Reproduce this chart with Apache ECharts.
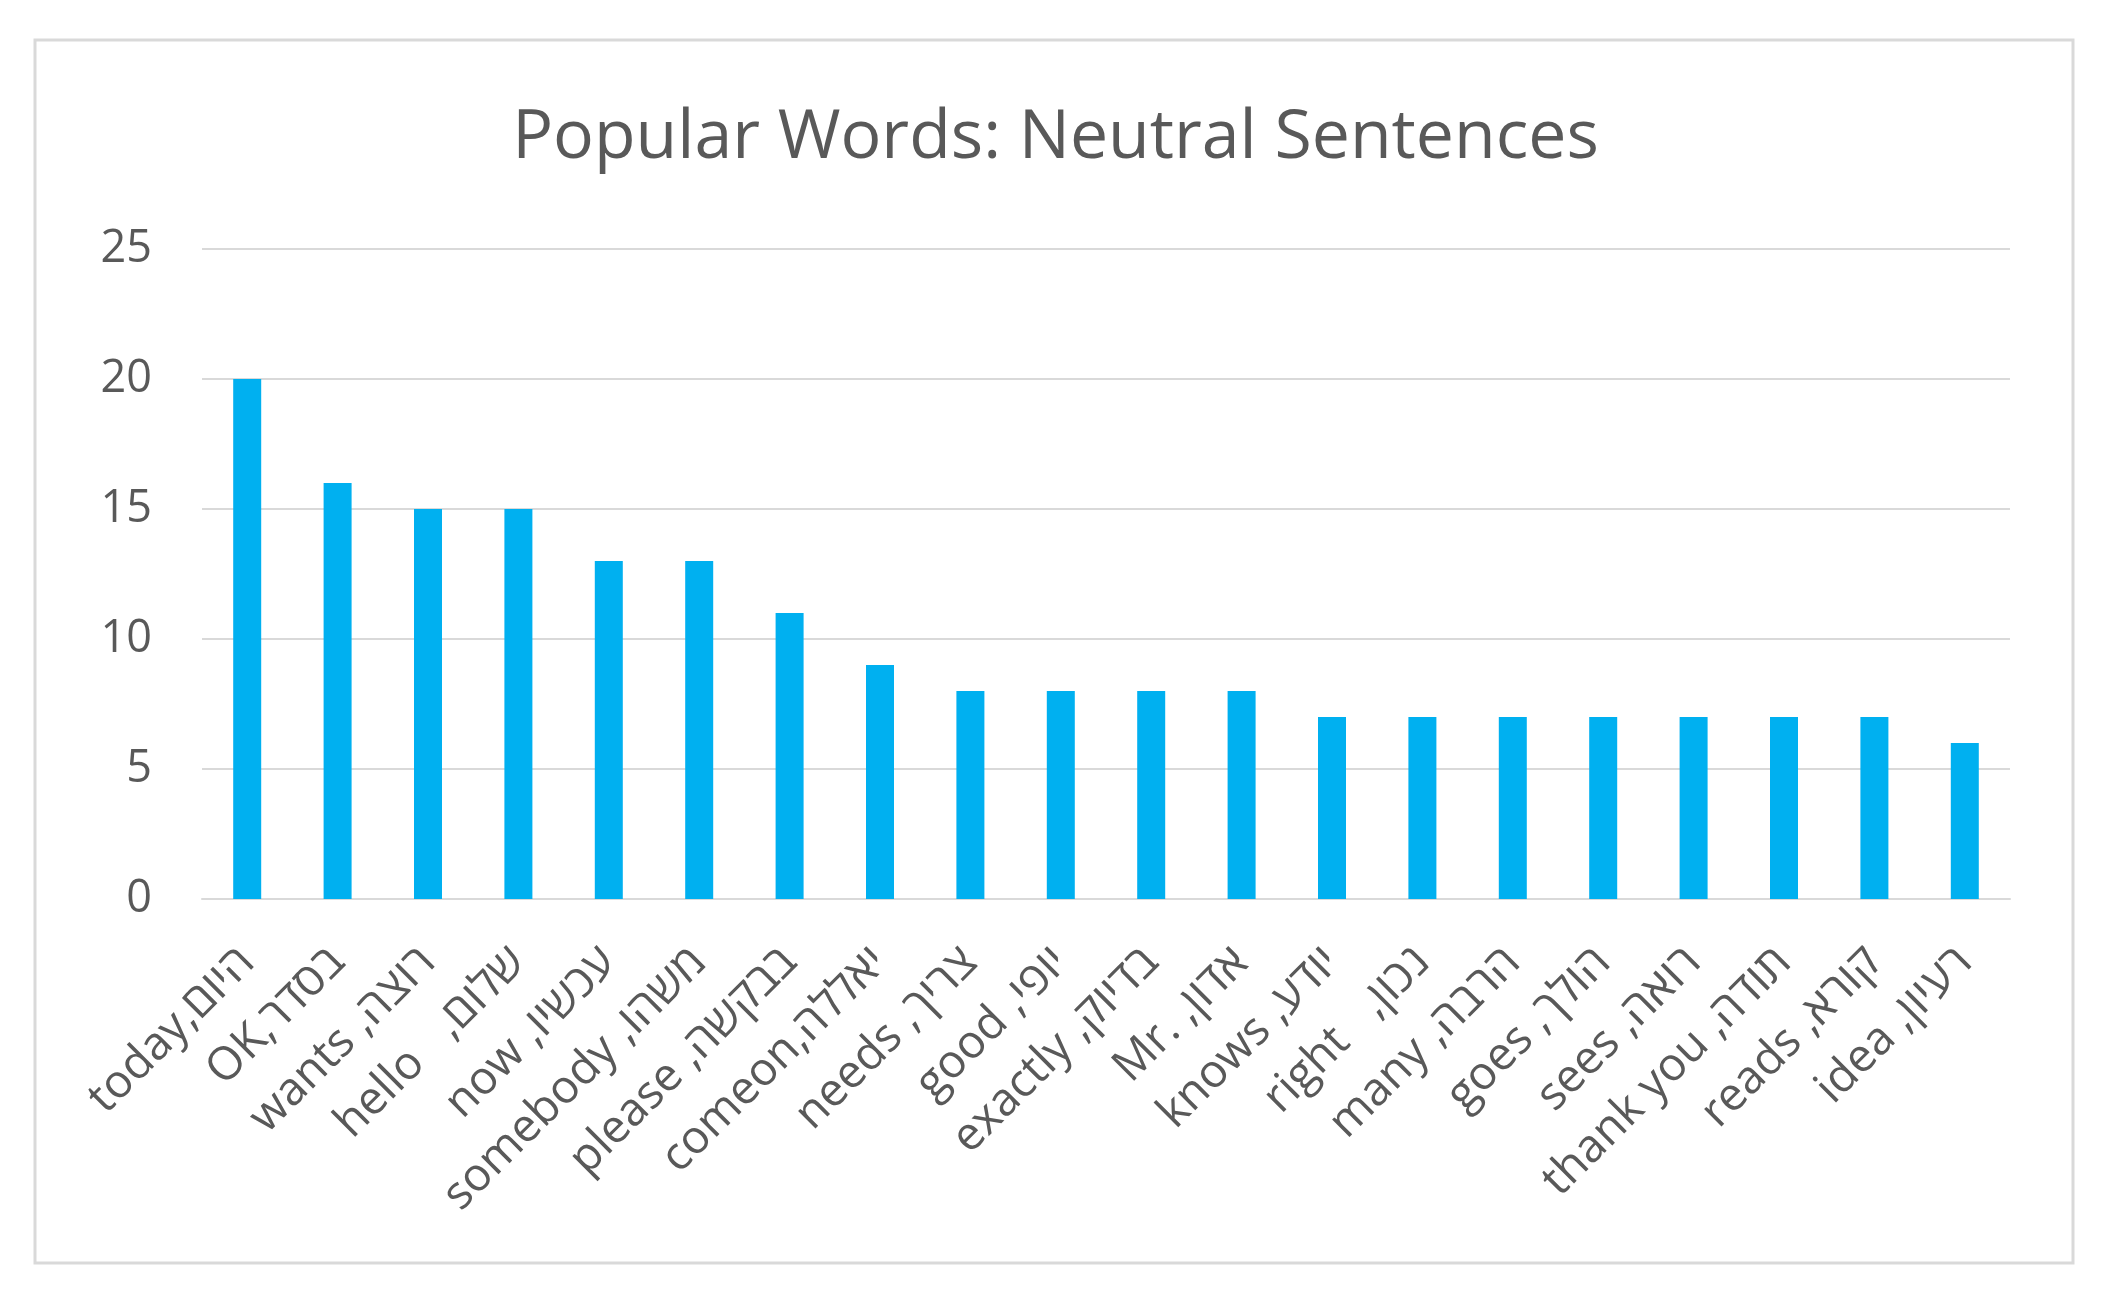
<!DOCTYPE html>
<html><head><meta charset="utf-8">
<script src="https://cdn.jsdelivr.net/npm/echarts@6/dist/echarts.min.js"></script>
<style>html,body{margin:0;padding:0;background:#fff;}#c{width:2111px;height:1292px;}</style>
</head><body><div id="c"></div>
<script>
const categories = ["today,היום","OK,בסדר","wants ,רוצה","hello   ,שלום","now ,עכשיו","somebody ,משהו","please ,בבקשה","comeon,יאללה","needs ,צריך","good ,יופי","exactly ,בדיוק","Mr. ,אדון","knows ,יודע","right   ,נכון","many ,הרבה","goes ,הולך","sees ,רואה","thank you ,תודה","reads ,קורא","idea ,רעיון"];
const counts = [20,16,15,15,13,13,11,9,8,8,8,8,7,7,7,7,7,7,7,6];
const yTicks = [0,5,10,15,20,25];

const font = "Open Sans";
const chart = echarts.init(document.getElementById('c'), null, {renderer:'canvas'});
chart.setOption({
  animation:false,
  backgroundColor:'#fff',
  graphic:[{type:'rect',shape:{x:35,y:40,width:2038,height:1223},style:{fill:'none',stroke:'#d9d9d9',lineWidth:3}}],
  title:{text:'Popular Words: Neutral Sentences',left:'center',top:100,
    textStyle:{fontFamily:font,fontSize:68,fontWeight:'normal',color:'#595959'}},
  grid:{left:202,right:101,top:249,bottom:393,containLabel:false},
  xAxis:{type:'category',data:categories,
    axisLine:{lineStyle:{color:'#d9d9d9',width:2}},axisTick:{show:false},
    axisLabel:{rotate:45,interval:0,margin:56,fontFamily:font,fontSize:46,color:'#595959'}},
  yAxis:{type:'value',min:yTicks[0],max:yTicks[yTicks.length-1],interval:5,
    axisLine:{show:false},axisTick:{show:false},
    splitLine:{lineStyle:{color:'#d9d9d9',width:2}},
    axisLabel:{margin:50,fontFamily:font,fontSize:45,color:'#595959'}},
  series:[{type:'bar',data:counts,barWidth:28,itemStyle:{color:'#00b0f0'}}]
});
</script></body></html>
